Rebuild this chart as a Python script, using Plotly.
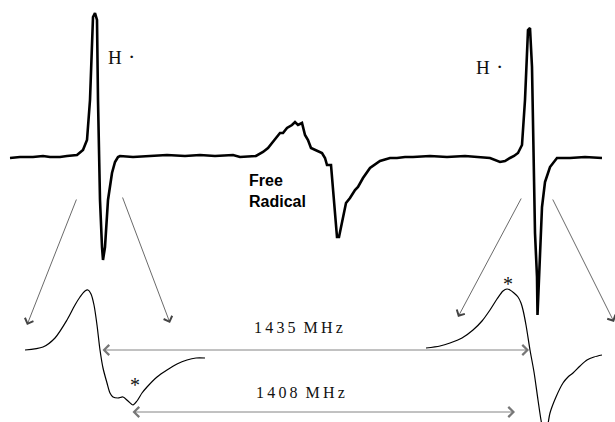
import plotly.graph_objects as go

# ---- Data (canvas units: field position -> x, signal -> y) ----
spectrum_x = [10, 20, 33, 43, 50, 60, 67, 77, 83, 87, 90, 93, 95, 97, 98, 100, 102, 103, 105, 108, 112, 115, 118, 120,
              133, 150, 167, 185, 200, 215, 233, 240, 250, 256, 263, 268, 272, 277, 280, 283, 287, 292, 295, 298,
              302, 305, 308, 311, 315, 322, 325, 327, 331, 334, 337, 339, 342, 346, 350, 355, 358, 363, 370, 380,
              390, 397, 405, 413, 430, 447, 465, 480, 490, 500, 505, 510, 514, 518, 522, 525, 528, 530, 532, 535,
              537, 537.5, 539, 542, 545, 550, 557, 570, 585, 602]
spectrum_y = [158, 157, 157, 156, 157, 157, 156, 155, 150, 140, 100, 17, 13, 20, 100, 200, 247, 260, 247, 200, 173, 162,
              157, 156, 157, 156, 155, 156, 155, 156, 155, 157, 156, 156, 152, 148, 143, 137, 133, 133, 128, 125,
              122, 125, 123, 135, 140, 148, 150, 153, 158, 165, 165, 200, 237, 237, 223, 203, 198, 190, 187, 178,
              168, 161, 158, 158, 157, 157, 156, 157, 156, 157, 158, 162, 161, 158, 156, 153, 145, 100, 30, 28, 67,
              233, 277, 315, 277, 207, 182, 167, 158, 158, 157, 158]

inset_left_x = [25, 43, 55, 67, 75, 80, 85, 88, 91, 94, 97, 100, 103, 107, 110, 113, 118, 123, 128, 133, 137, 142,
                147, 157, 167, 177, 187, 196, 205]
inset_left_y = [350, 347, 338, 320, 305, 297, 291, 290, 294, 305, 325, 350, 368, 383, 393, 397, 398, 397, 401, 405,
                401, 393, 387, 377, 370, 364, 360, 358, 358]

inset_right_x = [426, 440, 450, 462, 473, 482, 490, 497, 503, 507, 510, 514, 518, 521, 523, 526, 530, 534, 538, 541,
                 545, 550, 556, 563, 568, 573, 580, 587, 594, 602]
inset_right_y = [348, 346, 343, 338, 330, 321, 310, 299, 291, 289, 290, 293, 297, 303, 310, 325, 350, 372, 400, 420,
                 440, 413, 397, 383, 377, 373, 366, 360, 357, 355]

# arrows: (tail_x, tail_y, head_x, head_y)
zoom_arrows = [(77, 198, 27, 325), (122, 196, 170, 323), (522, 197, 458, 317), (552, 198, 614, 322)]
span_arrows = [(101, 350, 529, 350), (131, 412, 515, 412)]
span_labels = ["1\u20094\u20093\u20095\u2002M\u2009H\u2009z", "1\u20094\u20090\u20098\u2002M\u2009H\u2009z"]
span_label_pos = [(298, 327), (300, 392)]

h_labels = [(115, 57), (483, 67)]
star_pos = [(135, 385), (508, 284)]

fig = go.Figure()
fig.add_trace(go.Scatter(x=spectrum_x, y=spectrum_y, mode="lines",
                         line=dict(color="black", width=2.6), hoverinfo="skip"))
fig.add_trace(go.Scatter(x=inset_left_x, y=inset_left_y, mode="lines",
                         line=dict(color="black", width=1.2, shape="spline", smoothing=0.8), hoverinfo="skip"))
fig.add_trace(go.Scatter(x=inset_right_x, y=inset_right_y, mode="lines",
                         line=dict(color="black", width=1.2, shape="spline", smoothing=0.8), hoverinfo="skip"))

ann = []
for tx, ty, hx, hy in zoom_arrows:
    ann.append(dict(x=hx, y=hy, ax=tx, ay=ty, xref="x", yref="y", axref="x", ayref="y", text="",
                    showarrow=True, arrowhead=4, arrowsize=2.2, arrowwidth=0.8, arrowcolor="#444"))
for tx, ty, hx, hy in span_arrows:
    ann.append(dict(x=hx, y=hy, ax=tx, ay=ty, xref="x", yref="y", axref="x", ayref="y", text="",
                    showarrow=True, arrowhead=4, startarrowhead=4, arrowside="end+start",
                    arrowsize=2.2, startarrowsize=2.2, arrowwidth=0.9, arrowcolor="#777"))
for (lx, ly), txt in zip(span_label_pos, span_labels):
    ann.append(dict(x=lx, y=ly, xref="x", yref="y", text=txt, showarrow=False,
                    font=dict(family="Liberation Serif", size=16, color="#111")))
for hx, hy in h_labels:
    ann.append(dict(x=hx, y=hy, xref="x", yref="y", text="H", showarrow=False,
                    font=dict(family="Liberation Serif", size=19, color="#111")))
    ann.append(dict(x=hx + 16, y=hy - 1, xref="x", yref="y", text="\u00b7", showarrow=False,
                    font=dict(family="Liberation Serif", size=22, color="#111")))
for sx, sy in star_pos:
    ann.append(dict(x=sx, y=sy, xref="x", yref="y", text="*", showarrow=False,
                    font=dict(family="Liberation Serif", size=20, color="#111")))
ann.append(dict(x=247, y=191, xref="x", yref="y", text="<b>Free<br>Radical</b>", showarrow=False,
                xanchor="left", align="left",
                font=dict(family="Liberation Sans Narrow, Liberation Sans", size=16, color="black")))

fig.update_layout(
    width=615, height=422, margin=dict(l=0, r=0, t=0, b=0),
    plot_bgcolor="white", paper_bgcolor="white", showlegend=False,
    xaxis=dict(range=[0, 615], visible=False, fixedrange=True),
    yaxis=dict(range=[422, 0], visible=False, fixedrange=True),
    annotations=ann,
)
fig.write_html("out.html", config={"displayModeBar": False})

# remove the browser's default body margin so the canvas sits at the page origin
with open("out.html", encoding="utf-8") as f:
    html = f.read()
html = html.replace("<head>", "<head><style>html,body{margin:0;padding:0;overflow:hidden;}</style>", 1)
with open("out.html", "w", encoding="utf-8") as f:
    f.write(html)
